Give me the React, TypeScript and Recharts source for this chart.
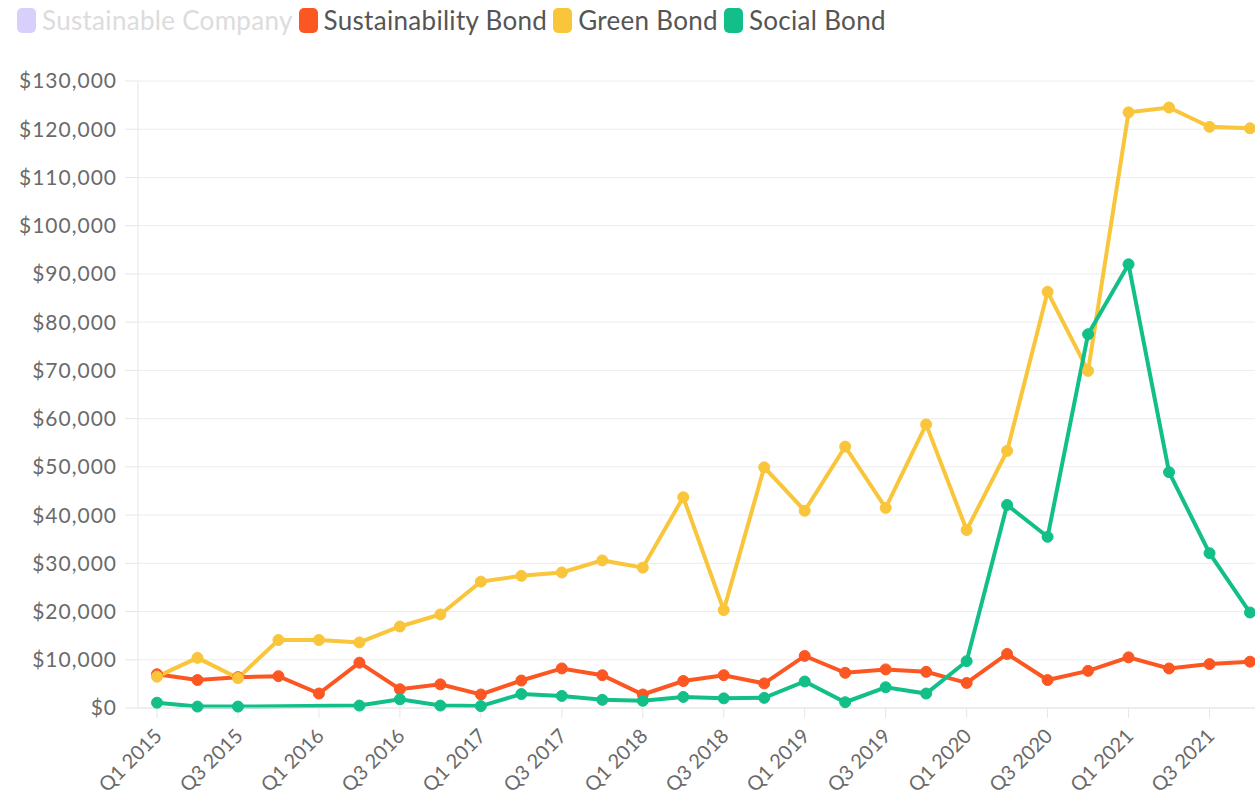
import { CartesianGrid, Line, LineChart, XAxis, YAxis } from 'recharts'

const quarters = [
  'Q1 2015', 'Q2 2015', 'Q3 2015', 'Q4 2015',
  'Q1 2016', 'Q2 2016', 'Q3 2016', 'Q4 2016',
  'Q1 2017', 'Q2 2017', 'Q3 2017', 'Q4 2017',
  'Q1 2018', 'Q2 2018', 'Q3 2018', 'Q4 2018',
  'Q1 2019', 'Q2 2019', 'Q3 2019', 'Q4 2019',
  'Q1 2020', 'Q2 2020', 'Q3 2020', 'Q4 2020',
  'Q1 2021', 'Q2 2021', 'Q3 2021', 'Q4 2021',
]

const sustainabilityBond = [
  7000, 5800, 6400, 6600, 3000, 9400, 3900, 4900,
  2800, 5700, 8200, 6800, 2800, 5600, 6800, 5100,
  10800, 7300, 8000, 7500, 5200, 11200, 5800, 7700,
  10500, 8200, 9100, 9600,
]

const greenBond = [
  6500, 10400, 6200, 14100, 14100, 13600, 16900, 19400,
  26200, 27400, 28100, 30600, 29100, 43700, 20300, 49900,
  40900, 54200, 41500, 58800, 36900, 53300, 86300, 69900,
  123500, 124500, 120500, 120200,
]

const socialBond: (number | null)[] = [
  1100, 300, 300, null, null, 500, 1800, 500,
  400, 2900, 2500, 1700, 1500, 2300, 2000, 2100,
  5500, 1200, 4300, 3000, 9700, 42100, 35500, 77500,
  92000, 48900, 32100, 19800,
]

const yTicks = [0, 10000, 20000, 30000, 40000, 50000, 60000, 70000, 80000, 90000, 100000, 110000, 120000, 130000]

const legendNames = ['Sustainable Company', 'Sustainability Bond', 'Green Bond', 'Social Bond']
const legendColors = ['#d8d0fb', '#fc5722', '#f9c53a', '#12bf88']
const legendHidden = [true, false, false, false]

const data = quarters.map((q, i) => ({
  quarter: q,
  sustainability: sustainabilityBond[i],
  green: greenBond[i],
  social: socialBond[i],
}))

const font = 'Lato, "Open Sans", sans-serif'

function XTick({ x, y, payload }: any) {
  return (
    <g transform={`translate(${x - 4},${y + 5})`}>
      <text
        x={0}
        y={0}
        dy="0.72em"
        textAnchor="end"
        transform="rotate(-45)"
        fill="#6a6a6a"
        fontSize={20}
        fontFamily={font}
      >
        {payload.value}
      </text>
    </g>
  )
}

export default function App() {
  return (
    <div style={{ position: 'fixed', left: 0, top: 0, width: 1255, height: 804, background: '#fff' }}>
      <div
        style={{
          position: 'absolute',
          left: 17,
          top: 8,
          display: 'flex',
          alignItems: 'center',
          fontFamily: font,
          fontSize: 26,
          letterSpacing: 0.3,
          lineHeight: '25px',
        }}
      >
        {legendNames.map((name, i) => (
          <div key={name} style={{ display: 'flex', alignItems: 'center', marginRight: 6 }}>
            <span
              style={{
                display: 'inline-block',
                width: 19,
                height: 25,
                borderRadius: 5,
                background: legendColors[i],
                marginRight: 6,
              }}
            />
            <span style={{ color: legendHidden[i] ? '#dcdcdc' : '#555' }}>{name}</span>
          </div>
        ))}
      </div>
      <LineChart width={1255} height={804} data={data} margin={{ top: 81, right: 0, left: 0, bottom: 0 }}>
        <CartesianGrid vertical={false} stroke="#ececec" />
        <XAxis
          dataKey="quarter"
          height={96}
          interval={1}
          padding={{ left: 19, right: 5 }}
          tickSize={10}
          tickMargin={4}
          axisLine={{ stroke: '#e6e6e6' }}
          tickLine={{ stroke: '#e6e6e6' }}
          tick={<XTick />}
        />
        <YAxis
          width={138}
          domain={[0, 130000]}
          ticks={yTicks}
          interval={0}
          tickSize={13}
          tickMargin={8}
          axisLine={{ stroke: '#e6e6e6' }}
          tickLine={{ stroke: '#e6e6e6' }}
          tick={{ fill: '#6a6a6a', fontSize: 21, fontFamily: font, letterSpacing: 1 }}
          tickFormatter={(v: number) => `$${v.toLocaleString('en-US')}`}
        />
        <Line
          type="linear"
          dataKey="sustainability"
          stroke={legendColors[1]}
          strokeWidth={4}
          dot={{ r: 5.5, fill: legendColors[1], stroke: legendColors[1], strokeWidth: 1 }}
          activeDot={false}
          isAnimationActive={false}
        />
        <Line
          type="linear"
          dataKey="green"
          stroke={legendColors[2]}
          strokeWidth={4}
          dot={{ r: 5.5, fill: legendColors[2], stroke: legendColors[2], strokeWidth: 1 }}
          activeDot={false}
          isAnimationActive={false}
        />
        <Line
          type="linear"
          dataKey="social"
          stroke={legendColors[3]}
          strokeWidth={4}
          connectNulls
          dot={{ r: 5.5, fill: legendColors[3], stroke: legendColors[3], strokeWidth: 1 }}
          activeDot={false}
          isAnimationActive={false}
        />
      </LineChart>
    </div>
  )
}
